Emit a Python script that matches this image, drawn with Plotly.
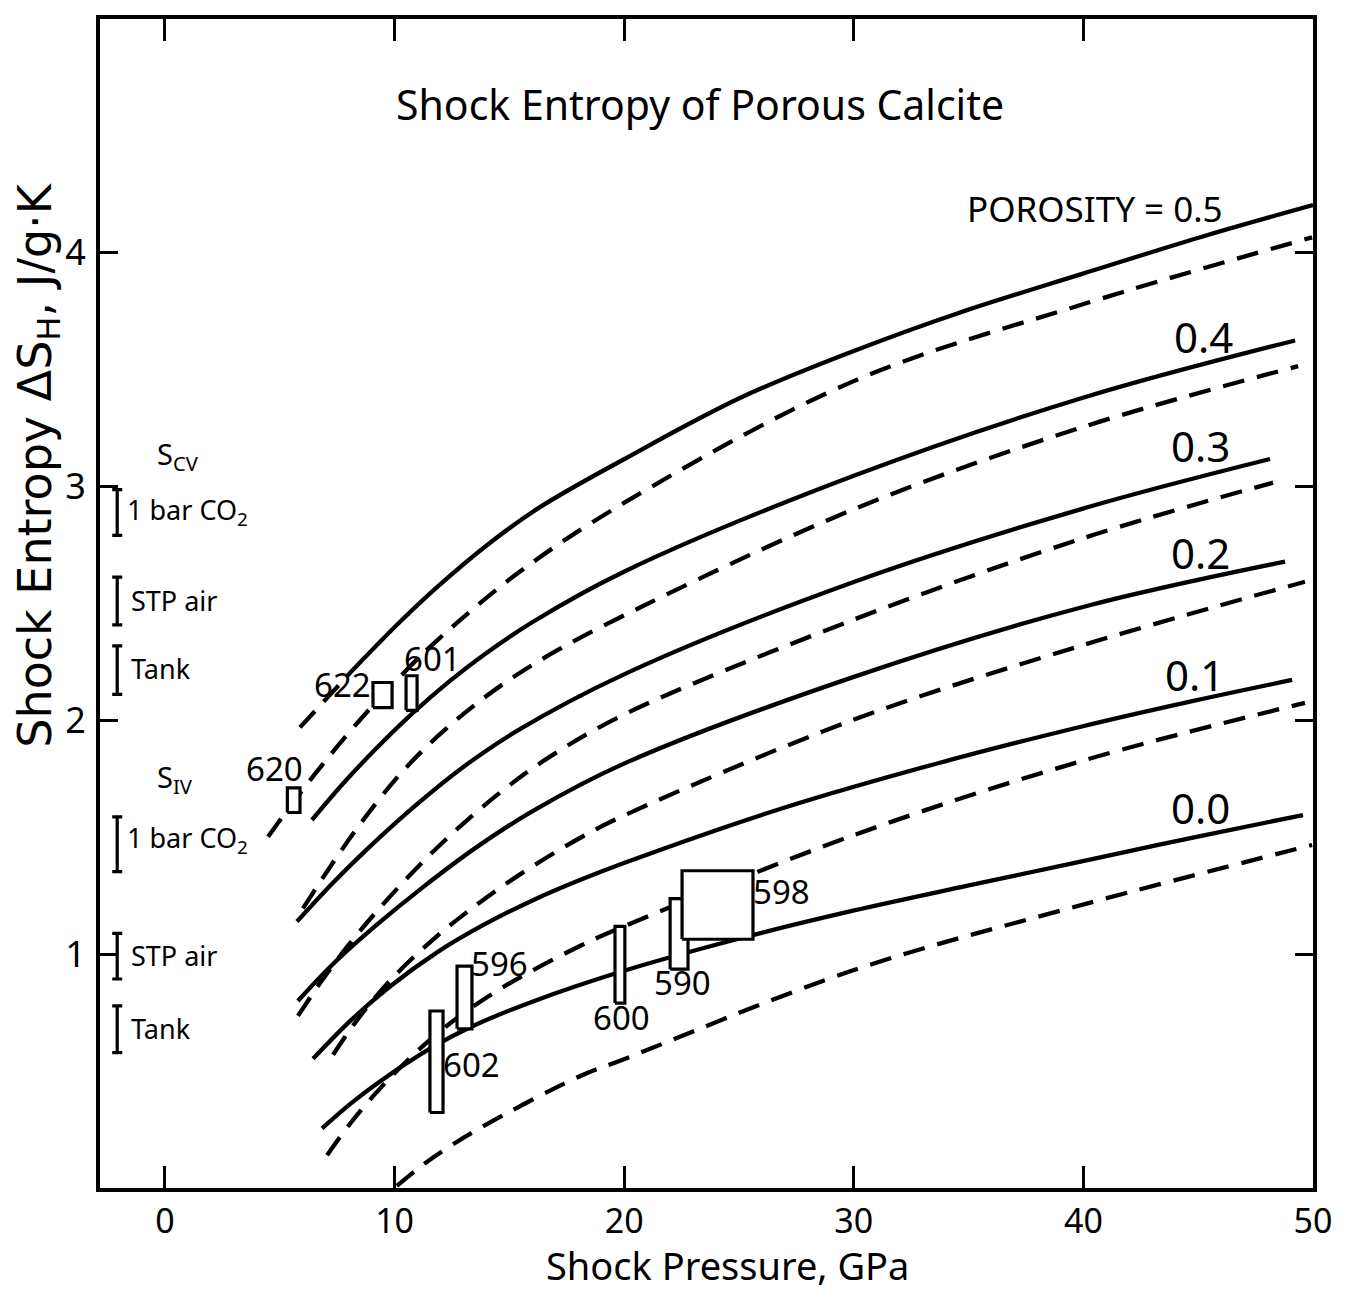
import plotly.graph_objects as go

# ---------------- data ----------------
# solid curves, porosity 0.5 ... 0.0
s05_x = [8.19, 10.24, 11.85, 14.16, 16.33, 19.99, 25.04, 29.97, 34.63, 39.98, 45.38, 50.0]
s05_y = [2.217, 2.422, 2.570, 2.760, 2.912, 3.117, 3.379, 3.579, 3.745, 3.911, 4.075, 4.204]
s04_x = [6.40, 7.75, 9.23, 10.80, 12.41, 13.85, 16.03, 19.99, 29.97, 39.98, 49.22]
s04_y = [1.574, 1.729, 1.883, 2.032, 2.169, 2.278, 2.422, 2.636, 3.045, 3.380, 3.625]
s03_x = [5.75, 7.32, 9.06, 10.98, 12.98, 15.33, 19.99, 29.97, 39.98, 48.13]
s03_y = [1.140, 1.306, 1.473, 1.642, 1.800, 1.955, 2.197, 2.591, 2.906, 3.118]
s02_x = [5.79, 7.32, 9.23, 11.24, 13.59, 16.03, 19.99, 29.97, 39.98, 48.78]
s02_y = [0.800, 0.958, 1.126, 1.287, 1.459, 1.613, 1.815, 2.185, 2.485, 2.679]
s01_x = [6.45, 8.06, 9.80, 11.85, 13.85, 16.03, 18.07, 19.99, 26.79, 33.75, 39.98, 44.50, 49.09]
s01_y = [0.553, 0.714, 0.862, 1.008, 1.124, 1.231, 1.317, 1.390, 1.621, 1.819, 1.975, 2.077, 2.173]
s00_x = [6.84, 8.06, 9.36, 11.67, 13.41, 16.03, 19.99, 24.98, 29.97, 34.96, 39.98, 44.77, 49.56]
s00_y = [0.255, 0.359, 0.456, 0.604, 0.693, 0.798, 0.929, 1.066, 1.186, 1.293, 1.398, 1.499, 1.595]

# dashed curves, porosity 0.5 ... 0.0 (plus the dashed lead-in of the 0.5 solid)
d05ext_x = [5.88, 8.19]
d05ext_y = [1.970, 2.217]
d05_x = [4.49, 5.66, 7.19, 8.80, 10.24, 11.76, 15.33, 19.99, 29.97, 39.98, 49.96]
d05_y = [1.502, 1.660, 1.851, 2.036, 2.187, 2.334, 2.627, 2.930, 3.450, 3.780, 4.066]
d04_x = [6.01, 7.19, 8.49, 9.93, 11.24, 12.98, 14.72, 16.77, 19.99, 29.97, 39.98, 49.35]
d04_y = [1.196, 1.373, 1.555, 1.735, 1.873, 2.026, 2.155, 2.282, 2.449, 2.902, 3.255, 3.515]
d03_x = [5.79, 6.88, 7.93, 9.23, 10.98, 12.72, 14.72, 16.77, 19.99, 29.97, 39.98, 48.26]
d03_y = [0.736, 0.894, 1.031, 1.184, 1.370, 1.535, 1.701, 1.845, 2.025, 2.430, 2.779, 3.017]
d02_x = [7.32, 8.49, 9.93, 11.54, 13.15, 15.33, 18.07, 19.99, 29.97, 39.98, 49.65]
d02_y = [0.570, 0.734, 0.900, 1.051, 1.180, 1.333, 1.497, 1.593, 2.002, 2.322, 2.593]
d01_x = [7.06, 8.06, 9.36, 10.67, 12.28, 14.59, 18.07, 19.99, 29.97, 39.98, 49.65]
d01_y = [0.140, 0.275, 0.425, 0.556, 0.694, 0.851, 1.035, 1.119, 1.508, 1.828, 2.075]
d00_x = [10.10, 11.54, 13.72, 18.07, 19.99, 29.97, 39.98, 49.96]
d00_y = [0.009, 0.121, 0.256, 0.478, 0.551, 0.931, 1.212, 1.467]

porosity_labels = ["POROSITY = 0.5", "0.4", "0.3", "0.2", "0.1", "0.0"]

# experiment boxes
box_names = ["620", "622", "601", "596", "602", "600", "590", "598"]
box_x0 = [5.33, 9.06, 10.50, 12.72, 11.54, 19.60, 22.00, 22.52]
box_x1 = [5.88, 9.89, 10.98, 13.37, 12.11, 20.03, 22.78, 25.61]
box_y0 = [1.606, 2.055, 2.043, 0.681, 0.323, 0.791, 0.936, 1.064]
box_y1 = [1.711, 2.162, 2.191, 0.949, 0.757, 1.119, 1.238, 1.357]

# left-side entropy ranges (S_CV group, S_IV group)
range_names = ["1 bar CO<sub>2</sub>", "STP air", "Tank",
               "1 bar CO<sub>2</sub>", "STP air", "Tank"]
range_lo = [2.791, 2.409, 2.111, 1.353, 0.894, 0.579]
range_hi = [2.987, 2.613, 2.319, 1.587, 1.089, 0.779]
range_pos = -2.08

x_ticks = [0, 10, 20, 30, 40, 50]
y_ticks = [1, 2, 3, 4]

# ---------------- figure ----------------
FONT = "Noto Sans"
LW = 4.3
DASH = "22px,13px"

fig = go.Figure()

solids = [(s05_x, s05_y), (s04_x, s04_y), (s03_x, s03_y),
          (s02_x, s02_y), (s01_x, s01_y), (s00_x, s00_y)]
dashes = [(d05ext_x, d05ext_y), (d05_x, d05_y), (d04_x, d04_y), (d03_x, d03_y),
          (d02_x, d02_y), (d01_x, d01_y), (d00_x, d00_y)]

for xs, ys in solids:
    fig.add_trace(go.Scatter(x=xs, y=ys, mode="lines",
                             line=dict(color="black", width=LW, shape="spline", smoothing=1.0),
                             hoverinfo="skip", showlegend=False))
for xs, ys in dashes:
    fig.add_trace(go.Scatter(x=xs, y=ys, mode="lines",
                             line=dict(color="black", width=LW, dash=DASH, shape="spline", smoothing=1.0),
                             hoverinfo="skip", showlegend=False))

# boxes
for i in range(len(box_names)):
    fig.add_trace(go.Scatter(
        x=[box_x0[i], box_x1[i], box_x1[i], box_x0[i], box_x0[i]],
        y=[box_y0[i], box_y0[i], box_y1[i], box_y1[i], box_y0[i]],
        mode="lines", fill="toself", fillcolor="white",
        line=dict(color="black", width=3.2),
        hoverinfo="skip", showlegend=False))

# range bars (I-beams)
for i in range(len(range_lo)):
    mid = (range_lo[i] + range_hi[i]) / 2
    half = (range_hi[i] - range_lo[i]) / 2
    fig.add_trace(go.Scatter(
        x=[range_pos], y=[mid], mode="markers",
        marker=dict(size=1, color="rgba(0,0,0,0)"),
        error_y=dict(type="data", array=[half], visible=True,
                     color="black", thickness=3.2, width=5),
        hoverinfo="skip", showlegend=False))

# annotations
ann = []
box_label_pos = [(4.79, 1.795), (7.75, 2.152), (11.63, 2.263), (14.59, 0.961),
                 (13.37, 0.527), (19.90, 0.731), (22.52, 0.880), (26.87, 1.268)]
for name, (lx, ly) in zip(box_names, box_label_pos):
    ann.append(dict(x=lx, y=ly, text=name, showarrow=False,
                    font=dict(size=33, family=FONT, color="black")))

por_pos = [(46.17, 4.188, "right", 35), (45.21, 3.641, "center", 42),
           (45.08, 3.176, "center", 42), (45.08, 2.717, "center", 42),
           (44.86, 2.197, "center", 42), (45.08, 1.627, "center", 42)]
for lab, (lx, ly, anc, sz) in zip(porosity_labels, por_pos):
    ann.append(dict(x=lx, y=ly, text=lab, showarrow=False, xanchor=anc,
                    font=dict(size=sz, family=FONT, color="black")))

range_text_pos = [(-1.74, 2.895), (-1.55, 2.512), (-1.55, 2.223),
                  (-1.74, 1.491), (-1.55, 0.993), (-1.55, 0.682)]
for name, (lx, ly) in zip(range_names, range_text_pos):
    ann.append(dict(x=lx, y=ly, text=name, showarrow=False, xanchor="left",
                    font=dict(size=27, family=FONT, color="black")))

ann.append(dict(x=0.57, y=3.135, text="S<sub>CV</sub>", showarrow=False,
                font=dict(size=29, family=FONT, color="black")))
ann.append(dict(x=0.44, y=1.752, text="S<sub>IV</sub>", showarrow=False,
                font=dict(size=29, family=FONT, color="black")))

ann.append(dict(x=23.3, y=4.637, text="Shock Entropy of Porous Calcite", showarrow=False,
                font=dict(size=41, family=FONT, color="black")))

# axis titles as annotations (offset like the original)
ann.append(dict(x=0.517, y=-0.066, xref="paper", yref="paper",
                text="Shock Pressure, GPa", showarrow=False,
                xanchor="center", yanchor="middle",
                font=dict(size=38, family=FONT, color="black")))
ann.append(dict(x=-0.051, y=0.618, xref="paper", yref="paper", textangle=-90,
                text="Shock Entropy ΔS<sub>H</sub>, J/g·K", showarrow=False,
                xanchor="center", yanchor="middle",
                font=dict(size=46, family="DejaVu Sans", color="black")))

fig.update_layout(
    width=1350, height=1292,
    margin=dict(l=92, r=45, t=7, b=112),
    paper_bgcolor="white", plot_bgcolor="white",
    annotations=ann,
    font=dict(family=FONT, color="black"),
)
fig.update_xaxes(range=[-2.83, 50], tickvals=x_ticks, ticks="inside", ticklen=22, tickwidth=3,
                 tickcolor="black", mirror="ticks", showline=True, linewidth=4, linecolor="black",
                 showgrid=False, zeroline=False, tickfont=dict(size=34, family=FONT),
                 ticklabelstandoff=0)
fig.update_yaxes(range=[0, 5], tickvals=y_ticks, ticks="inside", ticklen=18, tickwidth=3,
                 tickcolor="black", mirror="ticks", showline=True, linewidth=4, linecolor="black",
                 showgrid=False, zeroline=False, tickfont=dict(size=36, family=FONT),
                 ticklabelstandoff=3)

fig.write_html("out.html")
